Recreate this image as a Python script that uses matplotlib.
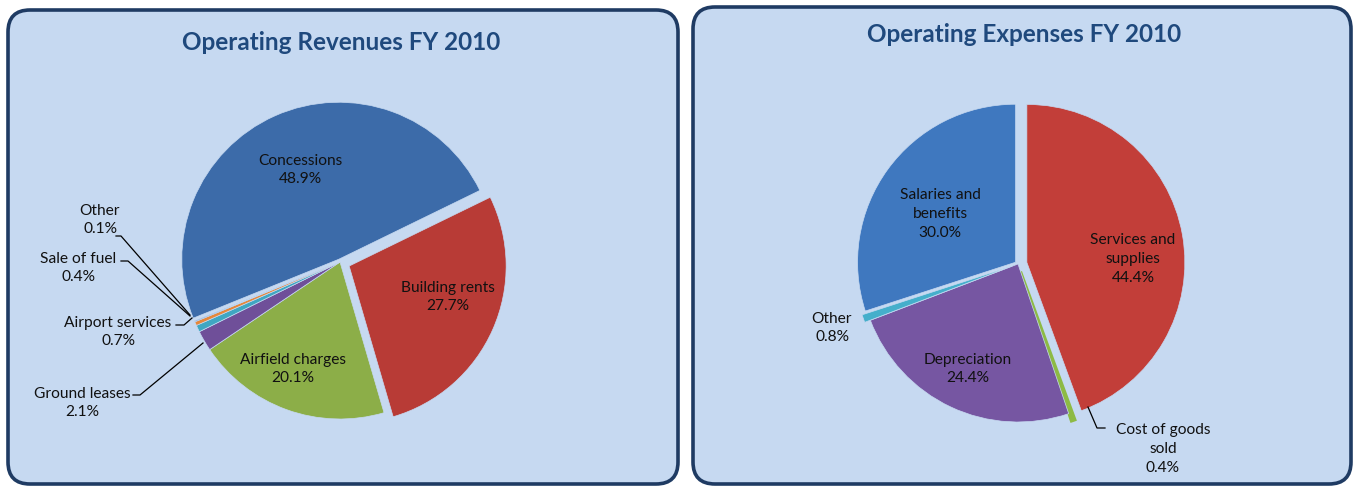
import matplotlib.pyplot as plt
from matplotlib.patches import FancyBboxPatch

plt.rcParams["font.family"] = ["Lato", "DejaVu Sans"]

# data
rev_labels = ["Building rents", "Airfield charges", "Ground leases", "Airport services",
              "Sale of fuel", "Other", "Concessions"]
rev_values = [27.7, 20.1, 2.1, 0.7, 0.4, 0.1, 48.9]
rev_colors = ["#b83b36", "#8cae48", "#6f4f99", "#3fa7c2", "#e6873a", "#4f81bd", "#3c6ba9"]
rev_explode = [10, 0, 0, 0, 0, 0, 3]

exp_labels = ["Services and\nsupplies", "Cost of goods\nsold", "Depreciation", "Other",
              "Salaries and\nbenefits"]
exp_values = [44.4, 0.4, 24.4, 0.8, 30.0]
exp_colors = ["#c23e39", "#8dba44", "#7656a2", "#45afcb", "#3f78bf"]
exp_explode = [9, 8, 0, 6, 3]

W, H = 1355, 487
fig = plt.figure(figsize=(W / 100, H / 100), dpi=100)
ax = fig.add_axes([0, 0, 1, 1])
ax.set_xlim(0, W)
ax.set_ylim(0, H)
ax.axis("off")


def Y(y):
    return H - y


# panels
for x0, y0, x1, y1 in [(8, 10, 678, 484), (693, 7, 1351, 484)]:
    ax.add_patch(FancyBboxPatch((x0, Y(y1)), x1 - x0, y1 - y0,
                                boxstyle="round,pad=0,rounding_size=22",
                                fc="#c6d9f1", ec="#1f3b63", lw=2.6, zorder=0))

title_kw = dict(fontsize=17.5, fontweight="bold", color="#1f497d", ha="center", va="center")
ax.text(341, Y(42), "Operating Revenues FY 2010", **title_kw)
ax.text(1024, Y(35), "Operating Expenses FY 2010", **title_kw)


def pie(values, colors, explode, center, r, start):
    # explode offsets are in data (pixel) units here
    wedges, _ = ax.pie(values, colors=colors, explode=explode, startangle=start,
                       counterclock=False, center=(center[0], Y(center[1])),
                       radius=r, frame=True,
                       wedgeprops=dict(linewidth=0.5, edgecolor="#c6d9f1", zorder=2))
    return wedges


pie(rev_values, rev_colors, rev_explode, (340, 262), 157, 26)
w = pie(exp_values, exp_colors, exp_explode, (1018, 264), 158, 90)
w[1].set_edgecolor(exp_colors[1])
w[1].set_linewidth(2)
ax.set_xlim(0, W)
ax.set_ylim(0, H)
ax.set_aspect("auto")

lab_kw = dict(fontsize=11.2, color="#111111", ha="center", va="center",
              linespacing=1.45, zorder=5)


def pct(v):
    return f"{v:.1f}%"


# inside labels
inside_rev = {"Concessions": (300, 170), "Building rents": (448, 297),
              "Airfield charges": (293, 369)}
for name, (x, y) in inside_rev.items():
    v = rev_values[rev_labels.index(name)]
    ax.text(x, Y(y), f"{name}\n{pct(v)}", **lab_kw)

inside_exp = {"Salaries and\nbenefits": (940, 214), "Services and\nsupplies": (1133, 259),
              "Depreciation": (968, 369)}
for name, (x, y) in inside_exp.items():
    v = exp_values[exp_labels.index(name)]
    ax.text(x, Y(y), f"{name}\n{pct(v)}", **lab_kw)

# outside labels with leader lines
outside_rev = {"Other": ((100, 220), [(116, 236), (121, 236), (190, 315)]),
               "Sale of fuel": ((78, 268), [(121, 261), (128, 261), (190, 316)]),
               "Airport services": ((118, 332), [(176, 325), (184, 325), (192, 318)]),
               "Ground leases": ((82, 403), [(133, 395), (140, 395), (203, 343)])}
for name, ((x, y), pts) in outside_rev.items():
    v = rev_values[rev_labels.index(name)]
    ax.text(x, Y(y), f"{name}\n{pct(v)}", **lab_kw)
    ax.plot([p[0] for p in pts], [Y(p[1]) for p in pts], color="black", lw=0.9, zorder=4)

v = exp_values[exp_labels.index("Other")]
ax.text(832, Y(328), f"Other\n{pct(v)}", **lab_kw)
v = exp_values[exp_labels.index("Cost of goods\nsold")]
ax.text(1163, Y(449), f"Cost of goods\nsold\n{pct(v)}", **lab_kw)
pts = [(1088, 407), (1097, 428), (1105, 428)]
ax.plot([p[0] for p in pts], [Y(p[1]) for p in pts], color="black", lw=0.9, zorder=4)

fig.savefig("out.png", dpi=100)
